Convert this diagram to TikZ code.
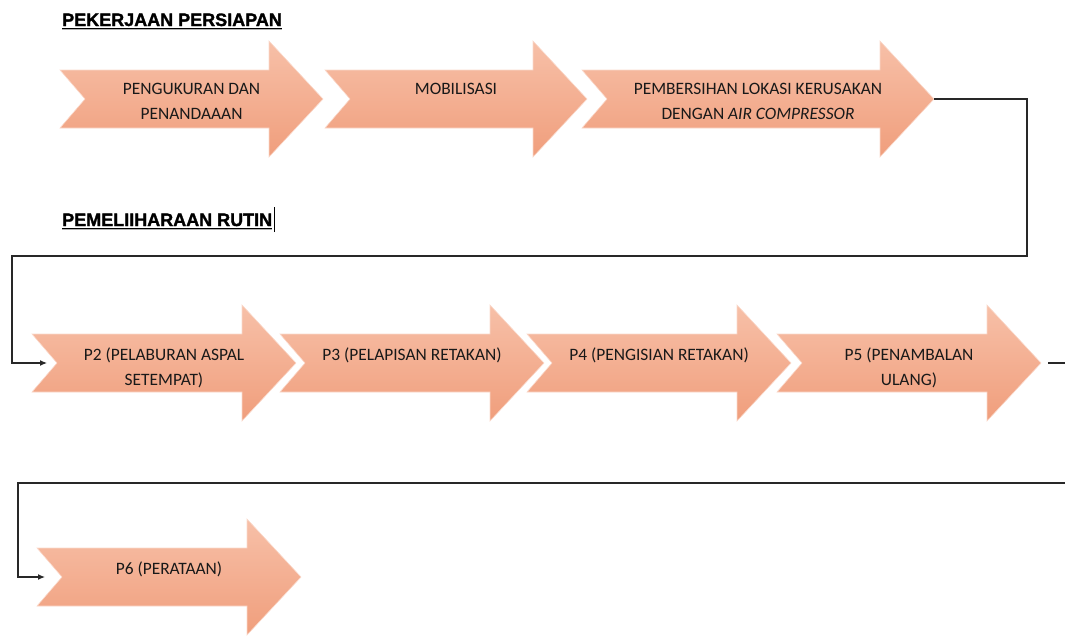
\documentclass[tikz,border=0pt]{standalone}
\usepackage{fontspec}
\setmainfont{Carlito}
\newfontfamily\headfont[FakeBold=1.6]{Liberation Sans Bold}
\usetikzlibrary{arrows.meta}

\definecolor{stepTop}{RGB}{247,192,168}
\definecolor{stepBottom}{RGB}{240,158,124}
\definecolor{lineGray}{RGB}{40,40,40}

\tikzset{
  stepfill/.style={top color=stepTop, bottom color=stepBottom, draw=stepTop!60!white, line width=0.6pt},
  steptext/.style={anchor=north, align=center, inner sep=0pt, font=\fontsize{17.4}{25}\selectfont, text=black!90},
  heading/.style={anchor=base west, inner sep=0pt, font=\headfont\fontsize{18}{20}\selectfont},
  link/.style={lineGray, line width=1.2pt},
  linkarrow/.style={link, -{Latex[length=7pt,width=6pt]}}
}

% name, left x, centre y, body length, text
\newcommand{\flowstep}[5]{%
  \path[stepfill] (#2,#3-29) -- (#2+#4,#3-29) -- (#2+#4,#3-58) -- (#2+#4+54,#3)
    -- (#2+#4,#3+58) -- (#2+#4,#3+29) -- (#2,#3+29) -- (#2+25,#3) -- cycle;
  \coordinate (#1-tail) at (#2+25,#3);
  \coordinate (#1-tip) at (#2+#4+54,#3);
  \node[steptext] (#1) at (#2+#4/2+27,#3-15.5) {#5};
}

\begin{document}
\begin{tikzpicture}[x=1pt,y=-1pt]
\useasboundingbox (0,0) rectangle (1065,635);
\clip (0,0) rectangle (1065,635);

% Draw the headings
\node[heading] (prep) at (62,26) {PEKERJAAN PERSIAPAN};
\draw[gray!60, line width=1pt] ([yshift=-3.8pt]prep.base west) -- ([yshift=-3.8pt]prep.base east);
\draw[line width=1pt] ([yshift=-2.5pt]prep.base west) -- ([yshift=-2.5pt]prep.base east);
\node[heading] (rutin) at (62,226) {PEMELIIHARAAN RUTIN};
\draw[gray!60, line width=1pt] ([yshift=-3.8pt]rutin.base west) -- ([yshift=-3.8pt]rutin.base east);
\draw[line width=1pt] ([yshift=-2.5pt]rutin.base west) -- ([yshift=-2.5pt]rutin.base east);
\draw[line width=0.8pt] (rutin.base east) ++(1.5,6) -- ++(0,-25);

% Draw the steps
\flowstep{ukur}{60}{99}{209}{PENGUKURAN DAN\\PENANDAAAN}
\flowstep{mobil}{325}{99}{208}{MOBILISASI}
\flowstep{bersih}{582}{99}{298}{PEMBERSIHAN LOKASI KERUSAKAN\\DENGAN \textit{AIR COMPRESSOR}}
\flowstep{pdua}{32}{363}{210}{P2 (PELABURAN ASPAL\\SETEMPAT)}
\flowstep{ptiga}{280}{363}{210}{P3 (PELAPISAN RETAKAN)}
\flowstep{pempat}{527}{363}{210}{P4 (PENGISIAN RETAKAN)}
\flowstep{plima}{777}{363}{210}{P5 (PENAMBALAN\\ULANG)}
\flowstep{penam}{37}{577}{210}{P6 (PERATAAN)}

% Draw the connectors
\draw[linkarrow, shorten >=10pt] (bersih-tip) -- ++(93,0) |- (12,256) |- (pdua-tail);
\draw[linkarrow, shorten >=17pt] ([xshift=7pt]plima-tip) -- ++(40,0) |- (18,483) |- (penam-tail);

\end{tikzpicture}
\end{document}
